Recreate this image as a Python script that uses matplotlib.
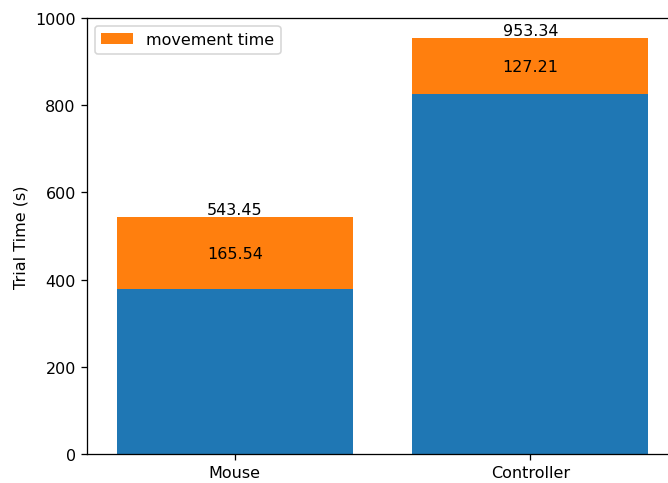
import matplotlib
matplotlib.use("Agg")
import matplotlib.pyplot as plt

devices = ["Mouse", "Controller"]
base_time = [377.91, 826.13]
movement_time = [165.54, 127.21]
total_time = [543.45, 953.34]

DPI = 115
fig = plt.figure(figsize=(668 / DPI, 484 / DPI), dpi=DPI)
# axes extends past the right edge, as in the cropped original
ax = fig.add_axes([87 / 668, 29 / 484, 591 / 668, 436 / 484])

ax.bar(devices, base_time, width=0.8, color="#1f77b4")
top = ax.bar(devices, movement_time, width=0.8, bottom=base_time,
             color="#ff7f0e", label="movement time")
ax.bar_label(top, labels=[f"{v:.2f}" for v in movement_time], label_type="center")
for i, t in enumerate(total_time):
    ax.text(i, t, f"{t:.2f}", ha="center", va="bottom")

ax.set_xlim(-0.5, 1.5)
ax.set_ylim(0, 1000)
ax.set_ylabel("Trial Time (s)")
ax.legend(loc="upper left")

fig.savefig("out.png", dpi=DPI)
